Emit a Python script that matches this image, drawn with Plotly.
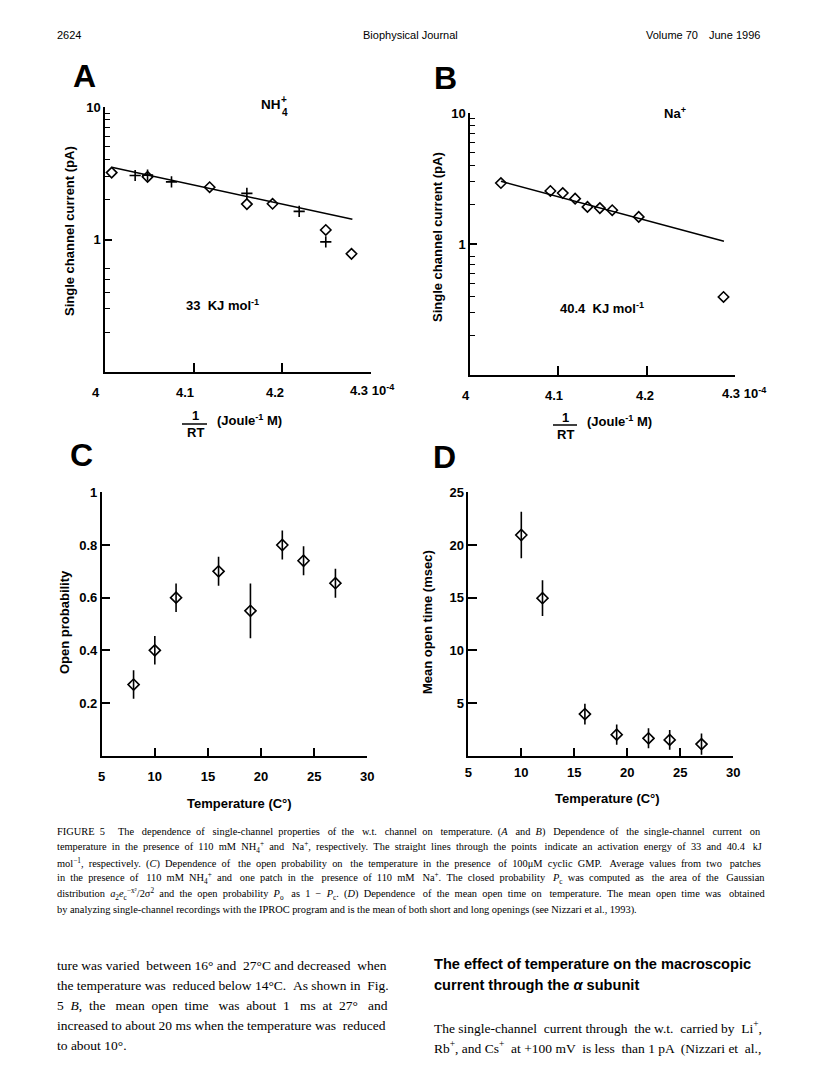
import re
import plotly.graph_objects as go

W, H = 816, 1078
def fx(p): return p / W
def fy(p): return 1 - p / H

SANS = "Liberation Sans"
SERIF = "Liberation Serif"

# ---------------- data ----------------
# Panel A (NH4+)
a_diam_x = [4.0075, 4.048, 4.118, 4.160, 4.189, 4.249, 4.278]
a_diam_y = [3.2, 2.97, 2.48, 1.85, 1.86, 1.18, 0.78]
a_cross_x = [4.034, 4.048, 4.075, 4.160, 4.219, 4.249]
a_cross_y = [3.04, 3.06, 2.72, 2.23, 1.63, 0.96]
a_fit_x = [4.0075, 4.279]
a_fit_y = [3.51, 1.42]
# Panel B (Na+)
b_x = [4.035, 4.091, 4.105, 4.119, 4.133, 4.147, 4.161, 4.191, 4.287]
b_y = [2.92, 2.54, 2.45, 2.22, 1.92, 1.88, 1.81, 1.61, 0.394]
b_fit_x = [4.035, 4.2875]
b_fit_y = [3.01, 1.05]
# Panel C (open probability)
c_temp = [8, 10, 12, 16, 19, 22, 24, 27]
c_po = [0.27, 0.40, 0.60, 0.70, 0.55, 0.80, 0.74, 0.655]
c_err = [0.054, 0.054, 0.054, 0.055, 0.104, 0.055, 0.055, 0.055]
# Panel D (mean open time)
d_temp = [10, 12, 16, 19, 22, 24, 27]
d_time = [20.95, 14.95, 3.95, 2.0, 1.65, 1.5, 1.1]
d_err = [2.2, 1.7, 0.98, 0.95, 0.95, 0.93, 1.0]

# tick labels
ab_xticks = [4.0, 4.1, 4.2, 4.3]
ab_xlabels = ["4", "4.1", "4.2", "4.3"]
ab_yticks = [1, 10]
ab_ylabels = ["1", "10"]
c_yticks = [0.2, 0.4, 0.6, 0.8, 1.0]
c_ylabels = ["0.2", "0.4", "0.6", "0.8", "1"]
d_yticks = [5, 10, 15, 20, 25]
d_ylabels = ["5", "10", "15", "20", "25"]
temp_ticks = [5, 10, 15, 20, 25, 30]
temp_labels = ["5", "10", "15", "20", "25", "30"]
a_minor = [0.2, 0.3, 0.4, 0.5, 0.6, 2, 3, 4, 5, 6, 7, 8, 9]
b_minor = [0.2, 0.3, 0.4, 0.5, 0.6, 0.7, 0.8, 2, 3, 4, 5, 6, 7, 8, 9]

caption_lines = [
    "FIGURE 5  The dependence of single-channel properties of the w.t. channel on temperature. (<i>A</i> and <i>B</i>) Dependence of the single-channel current on",
    "temperature in the presence of 110 mM NH<sub>4</sub><sup>+</sup> and Na<sup>+</sup>, respectively. The straight lines through the points indicate an activation energy of 33 and 40.4 kJ",
    "mol<sup>\u22121</sup>, respectively. (<i>C</i>) Dependence of the open probability on the temperature in the presence of 100\u03bcM cyclic GMP. Average values from two patches",
    "in the presence of 110 mM NH<sub>4</sub><sup>+</sup> and one patch in the presence of 110 mM Na<sup>+</sup>. The closed probability <i>P</i><sub>c</sub> was computed as the area of the Gaussian",
    "distribution <i>a</i><sub>2</sub><i>e</i><sub>c</sub><sup>\u2212x\u00b2</sup>/2\u03c3<sup>2</sup> and the open probability <i>P</i><sub>o</sub> as 1 \u2212 <i>P</i><sub>c</sub>. (<i>D</i>) Dependence of the mean open time on temperature. The mean open time was obtained",
    "by analyzing single-channel recordings with the IPROC program and is the mean of both short and long openings (see Nizzari et al., 1993).",
]
left_body = [
    "ture was varied between 16\u00b0 and 27\u00b0C and decreased when",
    "the temperature was reduced below 14\u00b0C. As shown in Fig.",
    "5 <i>B</i>, the mean open time was about 1 ms at 27\u00b0 and",
    "increased to about 20 ms when the temperature was reduced",
    "to about 10\u00b0.",
]
right_head = [
    "The effect of temperature on the macroscopic",
    "current through the <i>\u03b1</i> subunit",
]
right_body = [
    "The single-channel current through the w.t. carried by Li<sup>+</sup>,",
    "Rb<sup>+</sup>, and Cs<sup>+</sup> at +100 mV is less than 1 pA (Nizzari et al.,",
]

# ---- Times-Roman advance widths (per 1000 em) for justification ----
TW = {' ': 250, '!': 333, '(': 333, ')': 333, '+': 564, ',': 250, '-': 333, '.': 250, '/': 278,
      ':': 278, ';': 278, '\u00b0': 400, '\u03bc': 500, '\u03c3': 550, '\u03b1': 540, '\u2212': 564,
      '\u00b2': 300, '\u00a0': 250}
for ch in "0123456789":
    TW[ch] = 500
TW.update(dict(zip("abcdefghijklmnopqrstuvwxyz",
                   [444, 500, 444, 500, 444, 333, 500, 500, 278, 278, 500, 278, 778, 500, 500, 500,
                    500, 333, 389, 278, 500, 500, 722, 500, 500, 444])))
TW.update(dict(zip("ABCDEFGHIJKLMNOPQRSTUVWXYZ",
                   [722, 667, 667, 722, 611, 556, 722, 722, 333, 389, 722, 611, 889, 722, 722, 556,
                    722, 667, 556, 611, 722, 722, 944, 722, 722, 611])))

def measure(s, size):
    w = 0.0
    depth = 0
    for tok in re.split(r"(<[^>]+>)", s):
        if tok.startswith("<"):
            t = tok.lower()
            if t in ("<sub>", "<sup>"):
                depth += 1
            elif t in ("</sub>", "</sup>"):
                depth -= 1
            continue
        f = 0.7 if depth > 0 else 1.0
        for ch in tok:
            w += TW.get(ch, 500) * f
    return w * size / 1000.0

def justify(s, size, target):
    toks = s.split(" ")
    gaps = len(toks) - 1
    extra = target - measure(s, size)
    n = max(0, int(round(extra / (0.25 * size))))
    if gaps <= 0 or n == 0:
        return s
    out = toks[0]
    for i in range(gaps):
        k = (i + 1) * n // gaps - i * n // gaps
        out += " " + "\u00a0" * k + toks[i + 1]
    return out

fig = go.Figure()

diam = dict(symbol="diamond-open", size=8, color="black", line=dict(color="black", width=1.6))
cross = dict(symbol="cross-thin-open", size=8, color="black", line=dict(color="black", width=1.6))

# A
fig.add_trace(go.Scatter(x=a_fit_x, y=a_fit_y, mode="lines", line=dict(color="black", width=1.5),
                         xaxis="x", yaxis="y", showlegend=False))
fig.add_trace(go.Scatter(x=a_diam_x, y=a_diam_y, mode="markers", marker=diam,
                         xaxis="x", yaxis="y", showlegend=False))
fig.add_trace(go.Scatter(x=a_cross_x, y=a_cross_y, mode="markers", marker=cross,
                         xaxis="x", yaxis="y", showlegend=False))
# B
fig.add_trace(go.Scatter(x=b_fit_x, y=b_fit_y, mode="lines", line=dict(color="black", width=1.5),
                         xaxis="x2", yaxis="y2", showlegend=False))
fig.add_trace(go.Scatter(x=b_x, y=b_y, mode="markers", marker=diam,
                         xaxis="x2", yaxis="y2", showlegend=False))
# C
fig.add_trace(go.Scatter(x=c_temp, y=c_po, mode="markers", marker=dict(diam, size=8.5),
                         error_y=dict(type="data", array=c_err, color="black", thickness=1.6, width=0),
                         xaxis="x3", yaxis="y3", showlegend=False))
# D
fig.add_trace(go.Scatter(x=d_temp, y=d_time, mode="markers", marker=dict(diam, size=8.5),
                         error_y=dict(type="data", array=d_err, color="black", thickness=1.6, width=0),
                         xaxis="x4", yaxis="y4", showlegend=False))

tickfont = dict(family=SANS, size=13, color="black", weight="bold")
common = dict(showline=True, linecolor="black", linewidth=1.5, showgrid=False, zeroline=False,
              ticks="inside", tickcolor="black", tickwidth=1.5, tickfont=tickfont,
              automargin=False)

fig.update_layout(
    width=W, height=H, margin=dict(l=0, r=0, t=0, b=0, pad=0, autoexpand=False),
    paper_bgcolor="white", plot_bgcolor="rgba(0,0,0,0)",
    font=dict(family=SANS, color="black", size=13),
    showlegend=False,
    xaxis=dict(common, domain=[fx(105), fx(371)], range=[4, 4.3], tickvals=ab_xticks,
               showticklabels=False, ticklen=9, anchor="y"),
    yaxis=dict(common, domain=[fy(372), fy(107)], type="log", range=[-1, 1], tickvals=ab_yticks,
               ticktext=ab_ylabels, ticklen=7, anchor="x",
               minor=dict(tickmode="array", tickvals=a_minor, ticks="inside", ticklen=5,
                          tickcolor="black", tickwidth=1.2)),
    xaxis2=dict(common, domain=[fx(470), fx(735)], range=[4, 4.3], tickvals=ab_xticks,
                showticklabels=False, ticklen=9, anchor="y2"),
    yaxis2=dict(common, domain=[fy(375), fy(113)], type="log", range=[-1, 1], tickvals=ab_yticks,
                ticktext=ab_ylabels, ticklen=7, anchor="x2",
                minor=dict(tickmode="array", tickvals=b_minor, ticks="inside", ticklen=5,
                           tickcolor="black", tickwidth=1.2)),
    xaxis3=dict(common, domain=[fx(101.7), fx(367.3)], range=[5, 30], tickvals=temp_ticks,
                ticktext=temp_labels, ticklen=8, anchor="y3", ticklabelstandoff=8),
    yaxis3=dict(common, domain=[fy(755.7), fy(492.3)], range=[0, 1], tickvals=c_yticks,
                ticktext=c_ylabels, ticklen=9, anchor="x3"),
    xaxis4=dict(common, domain=[fx(468.3), fx(733.3)], range=[5, 30], tickvals=temp_ticks,
                ticktext=temp_labels, ticklen=8, anchor="y4", ticklabelstandoff=4),
    yaxis4=dict(common, domain=[fy(755.7), fy(492.3)], range=[0, 25], tickvals=d_yticks,
                ticktext=d_ylabels, ticklen=9, anchor="x4"),
)

ann = []
def txt(x, y, s, size=13, bold=True, family=SANS, xanchor="center", yanchor="middle", angle=0):
    ann.append(dict(x=fx(x), y=fy(y), xref="paper", yref="paper", text=s, showarrow=False,
                    xanchor=xanchor, yanchor=yanchor, textangle=angle,
                    font=dict(family=family, size=size, color="black",
                              weight="bold" if bold else "normal")))

# header
txt(55, 35, "2624", size=11, bold=False, xanchor="left")
txt(410, 35, "Biophysical Journal", size=11, bold=False)
txt(762, 35, "Volume 70\u2003June 1996", size=11, bold=False, xanchor="right")

# panel letters
txt(84, 76, "A", size=32)
txt(446, 78, "B", size=32)
txt(81, 455, "C", size=32)
txt(445, 457, "D", size=32)

# panel A / B labels
txt(259, 105, "NH", size=13.5, xanchor="left")
txt(279, 100, "+", size=10, xanchor="left")
txt(279.5, 112, "4", size=10, xanchor="left")
txt(662, 113, "Na<sup>+</sup>", size=13, xanchor="left")
txt(184, 305, "33  KJ mol<sup>-1</sup>", size=13, xanchor="left")
txt(558, 308, "40.4  KJ mol<sup>-1</sup>", size=13, xanchor="left")

# y titles
txt(69, 231, "Single channel current (pA)", size=13, angle=-90)
txt(437, 237, "Single channel current (pA)", size=13, angle=-90)
txt(64, 622, "Open probability", size=13, angle=-90)
txt(427, 622, "Mean open time (msec)", size=13, angle=-90)

# x titles C, D
txt(239, 803, "Temperature (C\u00b0)", size=13)
txt(607, 798, "Temperature (C\u00b0)", size=13)

# x tick labels A / B (as annotations tied to the data axis)
a_shift = [-9, -9, -7]
b_shift = [-4, -4, -2]
for i in range(3):
    ann.append(dict(x=ab_xticks[i], xref="x", y=fy(392), yref="paper", text=ab_xlabels[i],
                    showarrow=False, xshift=a_shift[i], font=tickfont))
    ann.append(dict(x=ab_xticks[i], xref="x2", y=fy(395), yref="paper", text=ab_xlabels[i],
                    showarrow=False, xshift=b_shift[i], font=tickfont))
ann.append(dict(x=ab_xticks[3], xref="x", y=fy(390), yref="paper",
                text=ab_xlabels[3] + " 10<sup>-4</sup>", showarrow=False, xanchor="left",
                xshift=-23, font=tickfont))
ann.append(dict(x=ab_xticks[3], xref="x2", y=fy(393), yref="paper",
                text=ab_xlabels[3] + " 10<sup>-4</sup>", showarrow=False, xanchor="left",
                xshift=-15, font=tickfont))

# 1/RT fractions
txt(195, 415, "1", size=13)
txt(195, 433, "RT", size=13)
txt(215, 420, "(Joule<sup>-1</sup> M)", size=13, xanchor="left")
txt(565, 417, "1", size=13)
txt(565, 434, "RT", size=13)
txt(585, 421, "(Joule<sup>-1</sup> M)", size=13, xanchor="left")

shapes = [
    dict(type="line", xref="paper", yref="paper", x0=fx(182), x1=fx(207), y0=fy(424), y1=fy(424),
         line=dict(color="black", width=1.5)),
    dict(type="line", xref="paper", yref="paper", x0=fx(553), x1=fx(577), y0=fy(425), y1=fy(425),
         line=dict(color="black", width=1.5)),
]

# caption (justified lines except last)
CAP = 10.4
cap_y = [832, 847.5, 863, 878.5, 894, 910]
for i, (yy, s) in enumerate(zip(cap_y, caption_lines)):
    if i < len(caption_lines) - 1:
        s = justify(s, CAP, 707)
    txt(55, yy, s, size=CAP, bold=False, family=SERIF, xanchor="left")

# body text
BODY = 13.5
for i, s in enumerate(left_body):
    if i < len(left_body) - 1:
        s = justify(s, BODY, 330)
    txt(55, 965 + 20 * i, s, size=BODY, bold=False, family=SERIF, xanchor="left")
for i, s in enumerate(right_head):
    txt(432, 964 + 21 * i, s, size=14.6, bold=True, family=SANS, xanchor="left")
for i, s in enumerate(right_body):
    txt(432, 1027 + 20 * i, justify(s, BODY, 330), size=BODY, bold=False, family=SERIF,
        xanchor="left")

fig.update_layout(annotations=ann, shapes=shapes)
fig.write_html("out.html", config={"displayModeBar": False},
               post_script="document.body.style.margin='0';document.body.style.overflow='hidden';")
